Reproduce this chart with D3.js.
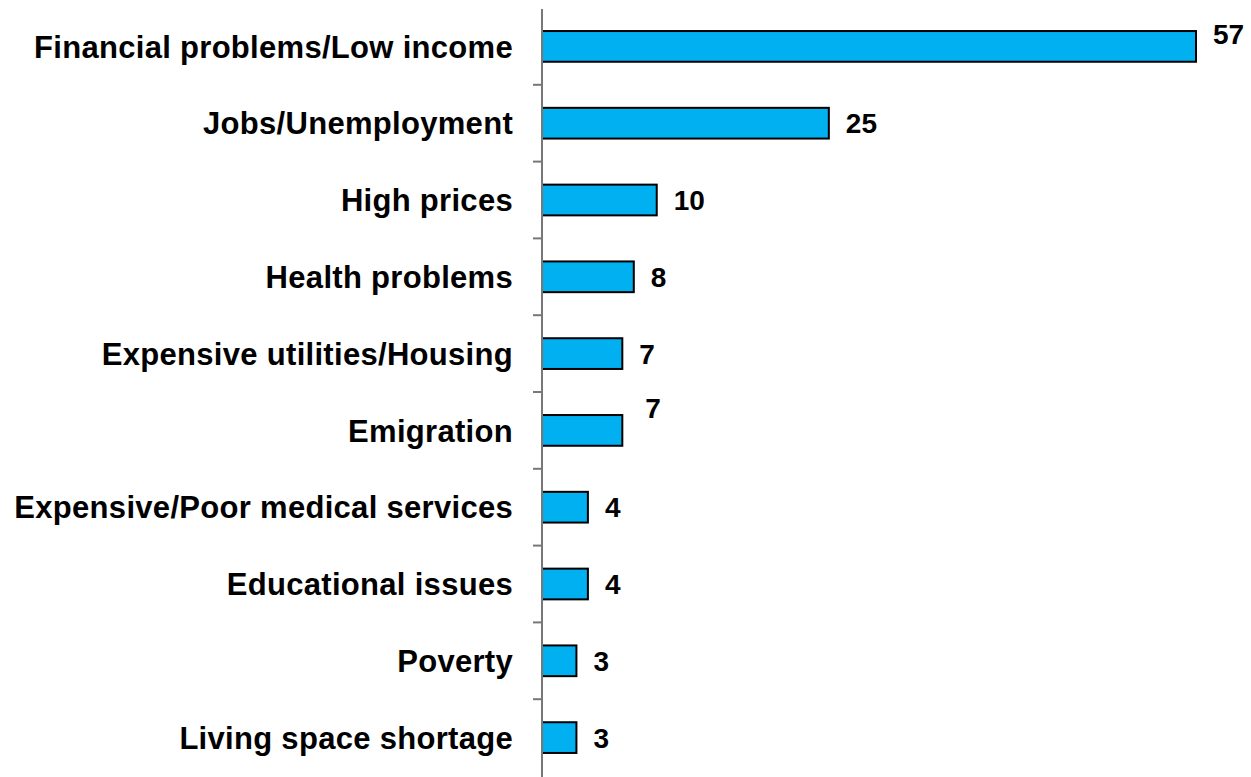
<!DOCTYPE html>
<html>
<head>
<meta charset="utf-8">
<script src="https://cdn.jsdelivr.net/npm/d3@7"></script>
<style>
body { margin: 0; background: #fff; }
text { font-family: "Liberation Sans", Arial, sans-serif; font-weight: bold; }
</style>
</head>
<body>
<div id="chart"></div>
<script>
var categories = ["Financial problems/Low income", "Jobs/Unemployment", "High prices",
  "Health problems", "Expensive utilities/Housing", "Emigration",
  "Expensive/Poor medical services", "Educational issues", "Poverty", "Living space shortage"];
var values = [57, 25, 10, 8, 7, 7, 4, 4, 3, 3];

var data = categories.map(function(c, i) { return {name: c, value: values[i]}; });

// set the dimensions
var W = 1251, H = 777;
var axisX = 542;

var svg = d3.select("#chart").append("svg")
  .attr("width", W).attr("height", H);

var x = d3.scaleLinear().domain([0, 57]).range([axisX, 1196]);
var y = d3.scaleBand().domain(categories).range([8, 776]).paddingInner(0.6).paddingOuter(0.3);

// category boundary ticks
var bounds = d3.range(1, categories.length).map(function(i) { return 8 + i * 76.8; });

svg.selectAll(".tick").data(bounds).enter().append("line")
  .attr("x1", axisX - 9).attr("x2", axisX)
  .attr("y1", function(d) { return d; }).attr("y2", function(d) { return d; })
  .attr("stroke", "#777").attr("stroke-width", 2);

// bars
svg.selectAll(".bar").data(data).enter().append("rect")
  .attr("x", x(0))
  .attr("y", function(d) { return y(d.name); })
  .attr("width", function(d) { return x(d.value) - x(0); })
  .attr("height", y.bandwidth())
  .attr("fill", "#00B0F0")
  .attr("stroke", "#000").attr("stroke-width", 2);

// axis line
svg.append("line")
  .attr("x1", axisX).attr("x2", axisX).attr("y1", 9).attr("y2", H)
  .attr("stroke", "#777").attr("stroke-width", 2);

// category labels
svg.selectAll(".lab").data(data).enter().append("text")
  .attr("x", 513)
  .attr("y", function(d) { return y(d.name) + y.bandwidth() / 2; })
  .attr("dy", "0.36em")
  .attr("text-anchor", "end")
  .attr("font-size", 31)
  .attr("letter-spacing", "0.3px")
  .attr("fill", "#000")
  .text(function(d) { return d.name; });

// value labels (Excel left a couple of them slightly out of place)
svg.selectAll(".val").data(data).enter().append("text")
  .attr("x", function(d, i) { return x(d.value) + (i === 5 ? 23 : 17); })
  .attr("y", function(d, i) {
    var c = y(d.name) + y.bandwidth() / 2;
    if (i === 0) c -= 12;
    if (i === 5) c -= 22;
    return c;
  })
  .attr("dy", "0.36em")
  .attr("font-size", 28)
  .attr("fill", "#000")
  .text(function(d) { return d.value; });
</script>
</body>
</html>
